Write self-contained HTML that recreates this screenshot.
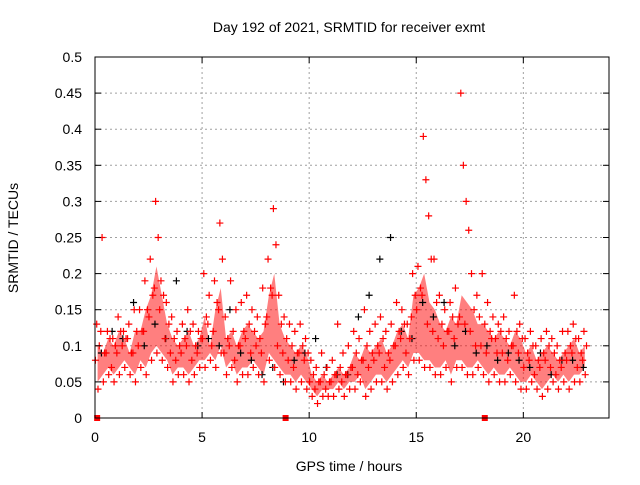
<!DOCTYPE html>
<html><head><meta charset="utf-8"><style>
body{margin:0;background:#fff}
svg text{font-family:"Liberation Sans",sans-serif;font-size:14px;fill:#000}
</style></head><body>
<svg id="chart" width="640" height="480" xmlns="http://www.w3.org/2000/svg">
<rect width="640" height="480" fill="#fff"/>
<text x="349" y="32" text-anchor="middle">Day 192 of 2021, SRMTID for receiver exmt</text>
<text x="349" y="471" text-anchor="middle">GPS time / hours</text>
<text transform="translate(18,238) rotate(-90)" text-anchor="middle">SRMTID / TECUs</text>
<g id="grid"></g>
<g id="band"></g>
<g id="pts"></g>
<g id="axes"></g>
</svg>
<script>
const s1=[.08,.12,.09,.07,.09,.10,.11,.09,.10,.12,.14,.18,.15,.11,.09,.08,.09,.10,.08,.09,.11,.13,.12,.15,.09,.10,.08,.10,.11,.09,.10,.09,.14,.17,.10,.09,.08,.07,.09,.08,.05,.04,.05,.04,.05,.06,.05,.06,.07,.06,.08,.07,.08,.09,.07,.08,.10,.11,.09,.14,.15,.17,.13,.12,.11,.10,.12,.11,.14,.13,.12,.10,.10,.09,.11,.09,.09,.08,.10,.09,.07,.08,.06,.07,.08,.07,.06,.07,.08,.09,.07,.08];
const s2=[.13,.25,.12,.11,.14,.12,.13,.15,.15,.19,.22,.30,.19,.16,.14,.12,.13,.15,.13,.12,.20,.17,.19,.27,.14,.19,.15,.16,.17,.15,.14,.18,.22,.29,.17,.14,.13,.12,.13,.11,.08,.07,.09,.07,.08,.13,.09,.10,.12,.11,.15,.12,.13,.14,.12,.13,.16,.15,.13,.20,.21,.39,.28,.22,.17,.15,.16,.18,.45,.30,.20,.17,.20,.16,.14,.13,.14,.12,.17,.13,.11,.12,.10,.11,.12,.11,.10,.12,.12,.13,.11,.12];
const s3=[.04,.05,.06,.05,.06,.07,.06,.05,.07,.06,.08,.09,.08,.07,.05,.06,.06,.05,.06,.07,.07,.08,.07,.09,.06,.07,.05,.06,.06,.07,.06,.05,.08,.07,.06,.05,.05,.04,.05,.04,.03,.02,.03,.03,.03,.04,.03,.04,.04,.05,.03,.04,.05,.05,.04,.05,.06,.07,.06,.08,.08,.07,.07,.06,.06,.07,.05,.07,.07,.06,.06,.07,.06,.05,.06,.05,.05,.06,.05,.04,.04,.05,.04,.03,.04,.05,.04,.05,.04,.05,.05,.06];
const s4=[.10,.09,.11,.10,.12,.11,.09,.12,.12,.15,.17,.25,.17,.13,.11,.10,.11,.12,.10,.11,.14,.10,.16,.22,.11,.12,.10,.12,.13,.12,.11,.13,.18,.24,.13,.11,.10,.09,.10,.09,.06,.05,.06,.05,.06,.07,.06,.07,.09,.08,.10,.09,.10,.11,.09,.10,.12,.13,.11,.17,.18,.33,.22,.16,.13,.12,.14,.13,.35,.26,.15,.14,.13,.12,.11,.12,.11,.10,.12,.11,.09,.10,.08,.09,.10,.09,.08,.09,.10,.11,.09,.10];
const blackVals=[.09,.12,.11,.16,.10,.13,.11,.19,.12,.10,.11,.10,.15,.09,.08,.06,.07,.05,.08,.09,.11,.07,.06,.06,.14,.17,.22,.25,.12,.11,.16,.14,.16,.10,.12,.09,.10,.08,.09,.08,.07,.09,.06,.08,.08,.07];
const zeroHours=[0.1,8.9,18.2];
const yTicks=[0,0.05,0.1,0.15,0.2,0.25,0.3,0.35,0.4,0.45,0.5];
const yTickLabels=["0","0.05","0.1","0.15","0.2","0.25","0.3","0.35","0.4","0.45","0.5"];
const xTicks=[0,5,10,15,20];
const xTickLabels=["0","5","10","15","20"];

const L=95,R=609,T=57,B=418,XMAX=24,YMAX=0.5;
const X=h=>L+(R-L)*h/XMAX, Y=v=>B-(B-T)*v/YMAX;
const NS="http://www.w3.org/2000/svg";
function mk(tag,attrs,parent){const e=document.createElementNS(NS,tag);for(const k in attrs)e.setAttribute(k,attrs[k]);parent.appendChild(e);return e;}
const grid=document.getElementById('grid'),axes=document.getElementById('axes'),pts=document.getElementById('pts'),band=document.getElementById('band');

yTicks.forEach((v,i)=>{
  if(v>0&&v<YMAX){const g=mk('line',{x1:L,x2:R,y1:Y(v),y2:Y(v),stroke:'#a0a0a0','stroke-dasharray':'2,3'},grid);
  
  }
  const tl=mk('text',{x:L-13,y:Y(v)+5,'text-anchor':'end'},axes);tl.textContent=yTickLabels[i];
  
  
  mk('line',{x1:L,x2:L+6,y1:Y(v),y2:Y(v),stroke:'#000'},axes);
  mk('line',{x1:R-6,x2:R,y1:Y(v),y2:Y(v),stroke:'#000'},axes);
});
xTicks.forEach((h,i)=>{
  if(h>0){const g=mk('line',{x1:X(h),x2:X(h),y1:T,y2:B,stroke:'#a0a0a0','stroke-dasharray':'2,3'},grid);
  
  }
  const tl=mk('text',{x:X(h),y:B+24,'text-anchor':'middle'},axes);tl.textContent=xTickLabels[i];
  
  
  mk('line',{x1:X(h),x2:X(h),y1:B,y2:B-6,stroke:'#000'},axes);
  mk('line',{x1:X(h),x2:X(h),y1:T,y2:T+6,stroke:'#000'},axes);
});
const box=mk('rect',{x:L,y:T,width:R-L,height:B-T,fill:'none',stroke:'#000'},axes);



let up=[],dn=[];
s3.forEach((v,i)=>{const h=i*0.25+0.12;dn.push(X(h)+','+Y(v+0.01));up.push(X(h)+','+Y(Math.min(s4[i],s1[i]+0.03)));});
const poly=mk('polygon',{points:up.concat(dn.reverse()).join(' '),fill:'#ff0000','fill-opacity':'0.5'},band);



function plus(h,v,col){return mk('path',{d:`M${X(h)-3.5},${Y(v)}h7M${X(h)},${Y(v)-3.5}v7`,stroke:col,'stroke-width':1.2,fill:'none'},pts);}
blackVals.forEach((v,i)=>{const p=plus(i*0.5+0.3,v,'#000');
  
  });
[[s1,0.02],[s2,0.08],[s3,0.14],[s4,0.2]].forEach(([arr,off])=>{
  arr.forEach((v,i)=>{const p=plus(i*0.25+off,v,'#ff0000');
    
    });
});
zeroHours.forEach(h=>{const r=mk('rect',{x:X(h)-3,y:Y(0)-3,width:6,height:6,fill:'#ff0000'},pts);
  
  });
</script>
</body></html>
